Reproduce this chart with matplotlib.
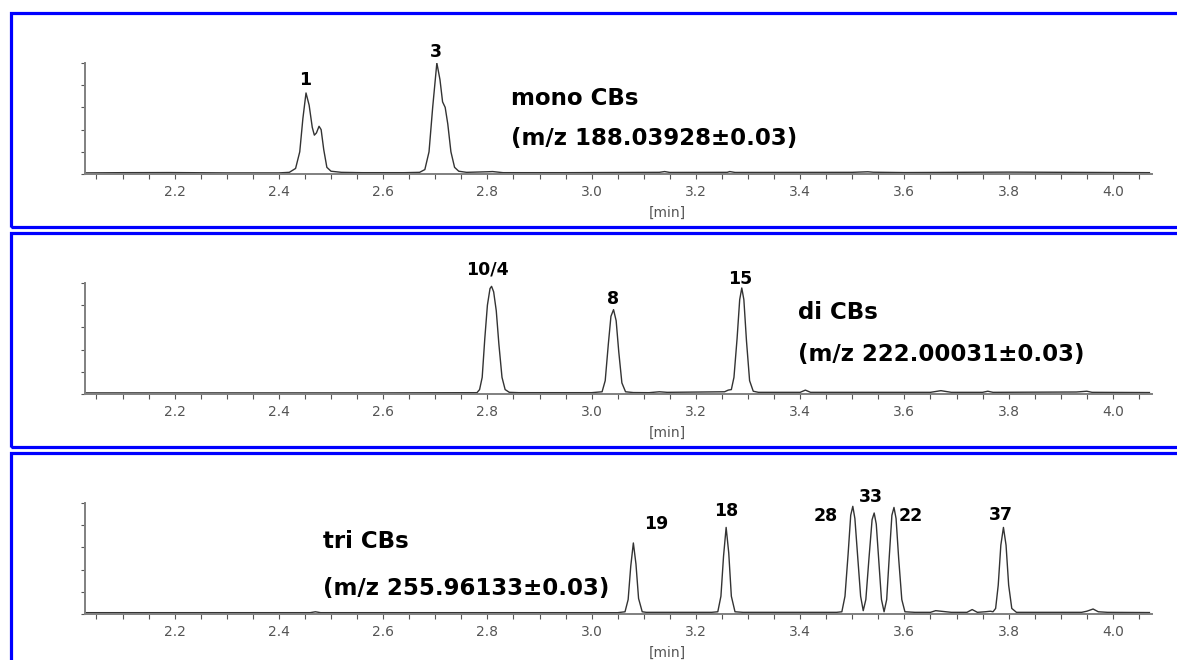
import matplotlib
matplotlib.use("Agg")
import matplotlib.pyplot as plt
from matplotlib.patches import Rectangle
from matplotlib.ticker import MultipleLocator

plt.rcParams["font.family"] = "DejaVu Sans"

# chromatogram traces: retention time (min) and relative intensity
mono_t = [2.030, 2.100, 2.190, 2.300, 2.400, 2.420, 2.432, 2.440, 2.446, 2.452,
          2.458, 2.464, 2.468, 2.472, 2.477, 2.481, 2.486, 2.492, 2.500, 2.520,
          2.560, 2.640, 2.670, 2.680, 2.688, 2.695, 2.703, 2.709, 2.714, 2.719,
          2.724, 2.730, 2.737, 2.745, 2.760, 2.800, 2.810, 2.830, 2.950, 3.130,
          3.140, 3.150, 3.260, 3.265, 3.275, 3.500, 3.530, 3.540, 3.600, 3.800,
          4.070]
mono_i = [0.010, 0.012, 0.013, 0.010, 0.010, 0.015, 0.050, 0.200, 0.500, 0.730,
          0.620, 0.420, 0.350, 0.370, 0.430, 0.400, 0.220, 0.060, 0.025, 0.015,
          0.012, 0.012, 0.015, 0.040, 0.200, 0.600, 1.000, 0.850, 0.650, 0.600,
          0.450, 0.200, 0.060, 0.025, 0.015, 0.020, 0.022, 0.012, 0.012, 0.015,
          0.022, 0.014, 0.015, 0.022, 0.014, 0.015, 0.020, 0.016, 0.013, 0.017,
          0.012]

di_t = [2.030, 2.300, 2.600, 2.780, 2.785, 2.790, 2.795, 2.800, 2.805, 2.808,
        2.812, 2.817, 2.822, 2.828, 2.834, 2.842, 2.860, 3.000, 3.020, 3.026,
        3.032, 3.037, 3.042, 3.047, 3.052, 3.058, 3.065, 3.080, 3.110, 3.130,
        3.145, 3.255, 3.262, 3.268, 3.273, 3.279, 3.284, 3.288, 3.292, 3.297,
        3.303, 3.310, 3.320, 3.400, 3.410, 3.420, 3.650, 3.670, 3.690, 3.750,
        3.760, 3.770, 3.930, 3.950, 3.960, 4.070]
di_i = [0.010, 0.010, 0.010, 0.012, 0.040, 0.150, 0.500, 0.800, 0.950, 0.970,
        0.920, 0.750, 0.450, 0.150, 0.040, 0.015, 0.012, 0.012, 0.020, 0.120,
        0.450, 0.700, 0.760, 0.660, 0.380, 0.100, 0.020, 0.013, 0.012, 0.020,
        0.015, 0.020, 0.035, 0.040, 0.150, 0.500, 0.850, 0.955, 0.850, 0.480,
        0.120, 0.025, 0.015, 0.015, 0.035, 0.015, 0.015, 0.030, 0.015, 0.015,
        0.025, 0.015, 0.018, 0.025, 0.015, 0.013]

tri_t = [2.030, 2.300, 2.460, 2.470, 2.480, 3.050, 3.064, 3.070, 3.075, 3.080,
         3.085, 3.090, 3.097, 3.105, 3.230, 3.242, 3.248, 3.253, 3.258, 3.263,
         3.268, 3.275, 3.290, 3.470, 3.480, 3.486, 3.492, 3.497, 3.501, 3.505,
         3.510, 3.516, 3.521, 3.526, 3.532, 3.538, 3.542, 3.546, 3.551, 3.556,
         3.561, 3.566, 3.571, 3.576, 3.580, 3.584, 3.589, 3.595, 3.601, 3.620,
         3.650, 3.660, 3.670, 3.680, 3.690, 3.720, 3.730, 3.740, 3.755, 3.765,
         3.770, 3.775, 3.780, 3.785, 3.790, 3.795, 3.800, 3.806, 3.815, 3.940,
         3.950, 3.962, 3.972, 3.990, 4.070]
tri_i = [0.012, 0.012, 0.012, 0.020, 0.012, 0.012, 0.020, 0.130, 0.430, 0.640,
         0.450, 0.140, 0.020, 0.015, 0.015, 0.020, 0.160, 0.520, 0.780, 0.550,
         0.160, 0.020, 0.015, 0.015, 0.020, 0.160, 0.540, 0.890, 0.970, 0.860,
         0.540, 0.160, 0.030, 0.130, 0.500, 0.850, 0.910, 0.810, 0.470, 0.130,
         0.020, 0.130, 0.520, 0.890, 0.960, 0.860, 0.500, 0.130, 0.020, 0.015,
         0.015, 0.030, 0.025, 0.020, 0.015, 0.015, 0.040, 0.015, 0.020, 0.025,
         0.020, 0.050, 0.260, 0.620, 0.780, 0.620, 0.260, 0.050, 0.015, 0.015,
         0.025, 0.045, 0.020, 0.015, 0.013]

# peak labels: (text, time, intensity position)
mono_peaks = [("1", 2.450, 0.85), ("3", 2.702, 1.10)]
di_peaks = [("10/4", 2.800, 1.12), ("8", 3.042, 0.86), ("15", 3.285, 1.04)]
tri_peaks = [("19", 3.124, 0.81), ("18", 3.258, 0.93), ("28", 3.449, 0.88),
             ("33", 3.536, 1.05), ("22", 3.613, 0.88), ("37", 3.785, 0.89)]

titles = ["mono CBs", "di CBs", "tri CBs"]
mz_labels = ["(m/z 188.03928\u00b10.03)", "(m/z 222.00031\u00b10.03)",
             "(m/z 255.96133\u00b10.03)"]
title_pos = [(2.846, 0.68, 0.32), (3.395, 0.73, 0.36), (2.484, 0.65, 0.23)]

W, H = 1177, 660
fig = plt.figure(figsize=(W / 100, H / 100), dpi=100)

def fx(px):
    return px / W

def fy(py):
    return 1 - py / H

panel_tops = [12.5, 232.5, 452.5]
traces = [(mono_t, mono_i), (di_t, di_i), (tri_t, tri_i)]
peaks = [mono_peaks, di_peaks, tri_peaks]

for k, top in enumerate(panel_tops):
    # blue frame, open on the right
    fig.patches.append(Rectangle((fx(10.5), fy(top + 214)), fx(1250), 214 / H,
                                 transform=fig.transFigure, fill=False,
                                 edgecolor="#0000ff", linewidth=2.3))
    base = top + 161.5
    ax = fig.add_axes([fx(85), fy(base), fx(1067), 111 / H])
    t, inten = traces[k]
    ax.plot(t, inten, color="#333333", linewidth=1.0)
    ax.set_xlim(2.028, 4.075)
    ax.set_ylim(0, 1)
    for s in ["top", "right"]:
        ax.spines[s].set_visible(False)
    for s in ["left", "bottom"]:
        ax.spines[s].set_color("#808080")
        ax.spines[s].set_linewidth(1.4)
    ax.xaxis.set_major_locator(MultipleLocator(0.2))
    ax.xaxis.set_minor_locator(MultipleLocator(0.05))
    ax.yaxis.set_major_locator(MultipleLocator(0.2))
    ax.set_yticklabels([])
    ax.tick_params(axis="y", direction="out", length=3, width=0.8,
                   color="#555555")
    ax.tick_params(axis="x", which="both", direction="out", length=3.5,
                   width=0.8, color="#555555", labelsize=10,
                   labelcolor="#555555", pad=4.5)
    ax.xaxis.set_major_formatter(plt.FuncFormatter(lambda v, p: f"{v:.1f}"))
    ax.patch.set_alpha(0)
    ax.text(3.145, -0.35, "[min]", ha="center", va="center", fontsize=10,
            color="#555555", clip_on=False)
    for lab, pt, py in peaks[k]:
        ax.text(pt, py, lab, ha="center", va="center", fontsize=12.5,
                fontweight="bold", clip_on=False)
    tx, y1, y2 = title_pos[k]
    ax.text(tx, y1, titles[k], ha="left", va="center", fontsize=16.5,
            fontweight="bold", clip_on=False)
    ax.text(tx, y2, mz_labels[k], ha="left", va="center", fontsize=16.5,
            fontweight="bold", clip_on=False)

fig.savefig("out.png", dpi=100)
